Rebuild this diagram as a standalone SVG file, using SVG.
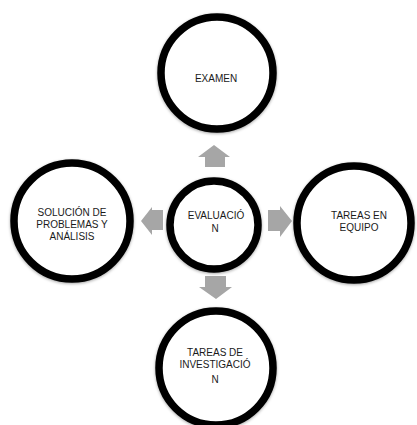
<svg xmlns="http://www.w3.org/2000/svg" width="417" height="425" viewBox="0 0 417 425">
  <defs>
    <filter id="soft" x="-20%" y="-20%" width="140%" height="140%">
      <feDropShadow dx="0" dy="1" stdDeviation="1.8" flood-color="#000" flood-opacity="0.35"/>
    </filter>
    <filter id="blurEdge" x="-20%" y="-20%" width="140%" height="140%">
      <feGaussianBlur stdDeviation="0.7"/>
    </filter>
  </defs>
  <style>
    .ring { fill: #fff; stroke: #000; stroke-width: 7.5; filter: url(#soft); }
    .label { font-family: "Liberation Sans", Arial, sans-serif; font-size: 10px; fill: #1a1a1a; text-anchor: middle; }
    .arrow { fill: #a6a6a6; filter: url(#blurEdge); }
  </style>
  <rect width="417" height="425" fill="#fff"/>

  <!-- block arrows radiating from the centre -->
  <g id="connectors">
    <path class="arrow" d="M205,167 V157 H198 L214,145 L230,157 H225 V167 Z"/>
    <path class="arrow" d="M163,210 H152 V207 L141,221 L152,235 V230 H163 Z"/>
    <path class="arrow" d="M268,210 H280 V206 L292,221 L280,237 V231 H268 Z"/>
    <path class="arrow" d="M205,276 H226 V287 H232 L216,299 L199,287 H205 Z"/>
  </g>

  <g id="examen">
    <circle class="ring" cx="217" cy="73" r="56"/>
    <text class="label" x="216" y="82">EXAMEN</text>
  </g>

  <g id="evaluacion">
    <circle class="ring" cx="214" cy="225" r="44"/>
    <text class="label" x="216" y="219">EVALUACIÓ</text>
    <text class="label" x="215" y="232">N</text>
  </g>

  <g id="solucion">
    <circle class="ring" cx="72" cy="221" r="58"/>
    <text class="label" x="72" y="216">SOLUCIÓN DE</text>
    <text class="label" x="72" y="228">PROBLEMAS Y</text>
    <text class="label" x="72" y="240">ANÁLISIS</text>
  </g>

  <g id="tareas-equipo">
    <circle class="ring" cx="354" cy="223" r="57"/>
    <text class="label" x="359" y="219">TAREAS EN</text>
    <text class="label" x="359" y="231">EQUIPO</text>
  </g>

  <g id="tareas-investigacion">
    <circle class="ring" cx="216" cy="368" r="57"/>
    <text class="label" x="215" y="356">TAREAS DE</text>
    <text class="label" x="215" y="368">INVESTIGACIÓ</text>
    <text class="label" x="215" y="383">N</text>
  </g>
</svg>
